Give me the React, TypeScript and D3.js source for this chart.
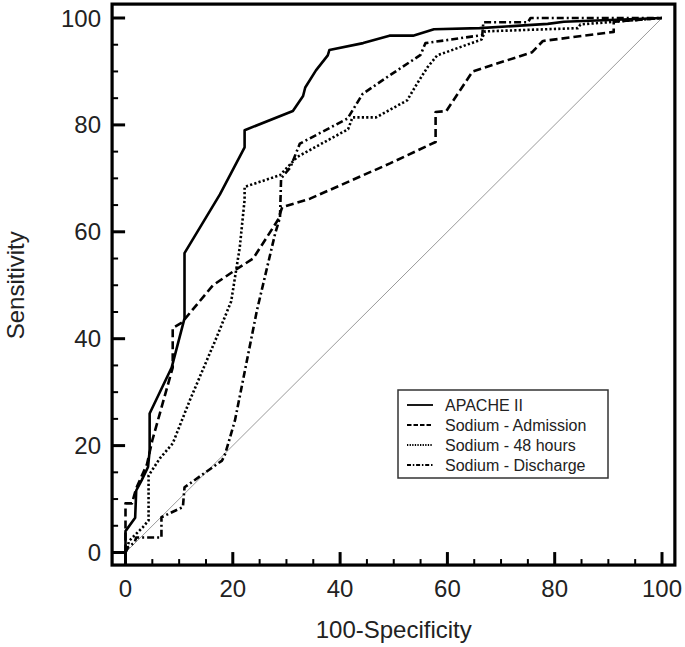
import React, { useEffect, useRef } from "react";
import * as d3 from "d3";

// ROC curves, values (100-Specificity, Sensitivity)
const apacheX = [0, 0, 1.8, 2, 3, 4.2, 4.5, 4.5, 8.6, 11, 11, 17.6, 22.2, 22.2, 31.2, 33.1, 33.5, 35.5, 37.7, 38, 44.3, 49.2, 53.6, 57.5, 66, 78.7, 81.7, 100];
const apacheY = [0, 4, 6.5, 11.6, 13.5, 16, 19, 26, 34.6, 43.8, 56, 67, 75.8, 79, 82.6, 85.4, 87, 90.2, 93, 94, 95.3, 96.7, 96.7, 97.9, 98.1, 98.9, 99.3, 100];

const admissionX = [0, 0, 1.2, 2, 4, 5, 8.8, 8.8, 10.5, 16.3, 21, 23.8, 28.4, 29.2, 34.4, 49.3, 57.8, 57.8, 59.8, 64.7, 75.8, 77.8, 91, 91, 100];
const admissionY = [0, 9.2, 9.2, 12, 16.5, 21, 34.6, 42, 43, 50, 53.2, 55, 62.2, 64.6, 66.2, 72.8, 76.8, 82.4, 82.6, 90, 93.6, 95.7, 97.4, 99.3, 100];

const hours48X = [0, 0.7, 3.2, 4.3, 4.3, 6.4, 8.8, 12, 17, 19.7, 21.3, 22.2, 22.2, 28.8, 32, 41.5, 42.3, 46.7, 52.5, 54.4, 56.3, 58.1, 66.4, 67, 84.3, 84.8, 100];
const hours48Y = [0, 2.2, 4.7, 6, 14.4, 17.6, 20.4, 28.5, 40.3, 47, 57.1, 66, 68.4, 70.6, 74, 79.2, 81.4, 81.4, 84.6, 87.8, 90.8, 93, 96, 97.5, 98.1, 98.8, 100];

const dischargeX = [0, 0.5, 1.7, 2, 6.7, 6.7, 10.7, 11, 18, 18.6, 20.4, 24.5, 27.9, 28.8, 29, 30.7, 32.5, 41.4, 44.2, 49.3, 55, 55.9, 66.5, 66.7, 75, 75.5, 100];
const dischargeY = [0, 1, 1.9, 2.8, 2.8, 6.6, 8.5, 12.2, 17.2, 18.5, 24.7, 45.3, 59.7, 62.7, 70, 72, 76.5, 81.2, 85.8, 89.3, 93.1, 95.3, 96.8, 99.2, 99.2, 100, 100];

const seriesNames = ["APACHE II", "Sodium - Admission", "Sodium - 48 hours", "Sodium - Discharge"];
const majorTicks = [0, 20, 40, 60, 80, 100];

const W = 685, H = 647;

export default function App() {
  const ref = useRef<SVGSVGElement>(null);

  useEffect(() => {
    const svg = d3.select(ref.current);
    svg.selectAll("*").remove();

    const x = d3.scaleLinear().domain([0, 100]).range([125.5, 662]);
    const y = d3.scaleLinear().domain([0, 100]).range([552.5, 18]);
    const frame = { x0: x(-2.5), x1: x(102.4), y0: y(102.6), y1: y(-2.35) };
    const font = "'Liberation Sans', Arial, sans-serif";

    // diagonal reference line
    svg.append("line")
      .attr("x1", x(0)).attr("y1", y(0))
      .attr("x2", x(100)).attr("y2", y(100))
      .attr("stroke", "#9a9a9a").attr("stroke-width", 1);

    const series = [
      { xs: apacheX, ys: apacheY, dash: null, legDash: null },
      { xs: admissionX, ys: admissionY, dash: "8,4", legDash: "4.5,2" },
      { xs: hours48X, ys: hours48Y, dash: "2.2,2.2", legDash: "1.3,1.3" },
      { xs: dischargeX, ys: dischargeY, dash: "7,3,2,3", legDash: "4,1.8,1.5,1.8" },
    ];

    series.forEach((s) => {
      const path = d3.line<number>()
        .x((_, i) => x(s.xs[i]))
        .y((d) => y(d));
      svg.append("path")
        .attr("d", path(s.ys))
        .attr("fill", "none")
        .attr("stroke", "#000")
        .attr("stroke-width", 2.6)
        .attr("stroke-linejoin", "round")
        .attr("stroke-dasharray", s.dash);
    });

    // frame
    svg.append("rect")
      .attr("x", frame.x0).attr("y", frame.y0)
      .attr("width", frame.x1 - frame.x0).attr("height", frame.y1 - frame.y0)
      .attr("fill", "none").attr("stroke", "#000").attr("stroke-width", 3.2);

    // ticks, inside the frame
    d3.range(0, 101, 5).forEach((t) => {
      const major = t % 20 === 0;
      const len = major ? 13 : 6;
      svg.append("line")
        .attr("x1", x(t)).attr("x2", x(t))
        .attr("y1", frame.y1).attr("y2", frame.y1 - len)
        .attr("stroke", "#000").attr("stroke-width", major ? 3 : 2);
      svg.append("line")
        .attr("y1", y(t)).attr("y2", y(t))
        .attr("x1", frame.x0).attr("x2", frame.x0 + len)
        .attr("stroke", "#000").attr("stroke-width", major ? 3 : 2);
    });

    // tick labels
    majorTicks.forEach((t) => {
      svg.append("text")
        .attr("x", x(t)).attr("y", 597)
        .attr("text-anchor", "middle")
        .attr("font-family", font).attr("font-size", 24).attr("fill", "#222")
        .text(t);
      svg.append("text")
        .attr("x", 101).attr("y", y(t) + 8.5)
        .attr("text-anchor", "end")
        .attr("font-family", font).attr("font-size", 24).attr("fill", "#222")
        .text(t);
    });

    // axis titles
    svg.append("text")
      .attr("x", (x(0) + x(100)) / 2).attr("y", 638)
      .attr("text-anchor", "middle")
      .attr("font-family", font).attr("font-size", 24).attr("fill", "#222")
      .text("100-Specificity");
    svg.append("text")
      .attr("transform", `translate(24,${(y(0) + y(100)) / 2}) rotate(-90)`)
      .attr("text-anchor", "middle")
      .attr("font-family", font).attr("font-size", 24).attr("fill", "#222")
      .text("Sensitivity");

    // legend
    const lg = svg.append("g");
    lg.append("rect")
      .attr("x", 398).attr("y", 390).attr("width", 210).attr("height", 88)
      .attr("fill", "#fff").attr("stroke", "#333").attr("stroke-width", 1.5);
    seriesNames.forEach((name, i) => {
      const cy = 405 + i * 20;
      lg.append("line")
        .attr("x1", 407).attr("x2", 433).attr("y1", cy).attr("y2", cy)
        .attr("stroke", "#000").attr("stroke-width", 1.8)
        .attr("stroke-dasharray", series[i].legDash);
      lg.append("text")
        .attr("x", 445).attr("y", cy + 5.5)
        .attr("font-family", font).attr("font-size", 16).attr("fill", "#222")
        .text(name);
    });
  }, []);

  return (
    <svg
      ref={ref}
      width={W}
      height={H}
      style={{ position: "absolute", left: 0, top: 0, background: "#fff" }}
    />
  );
}
